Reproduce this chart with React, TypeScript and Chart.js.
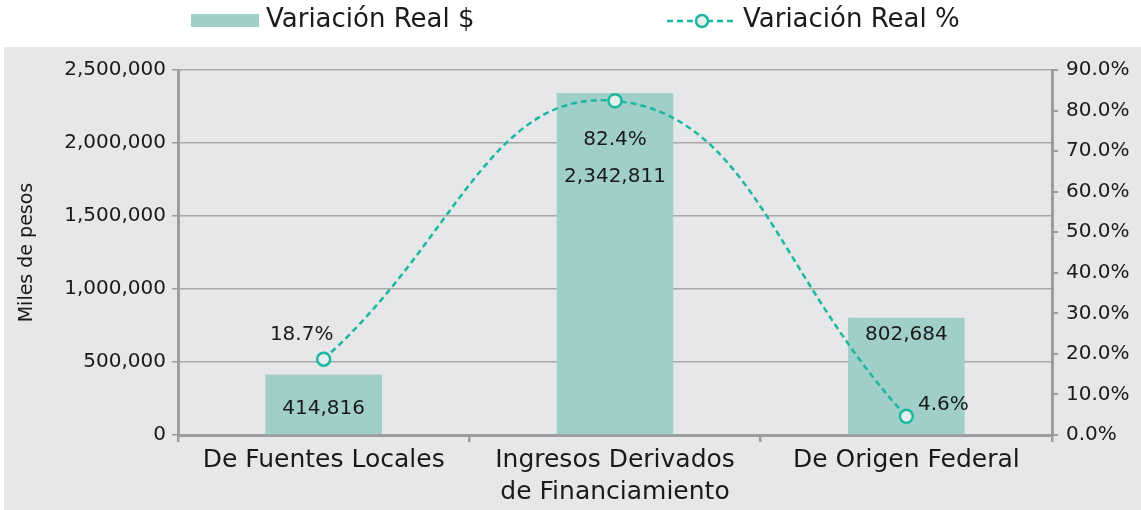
import React, { useEffect, useRef } from "react";
import { Chart, registerables } from "chart.js";

Chart.register(...registerables);

// ---- Data ----
const categories: string[][] = [
  ["De Fuentes Locales"],
  ["Ingresos Derivados", "de Financiamiento"],
  ["De Origen Federal"],
];
const realAmounts: number[] = [414816, 2342811, 802684];
const realPercents: number[] = [18.7, 82.4, 4.6];
const amountSeriesName = "Variación Real $";
const percentSeriesName = "Variación Real %";
const leftAxisTitle = "Miles de pesos";
const leftMax = 2500000;
const leftStep = 500000;
const rightMax = 90;
const rightStep = 10;

// ---- Styles ----
const FONT = "'DejaVu Sans', sans-serif";
const TEXT = "#1a1a1a";
const BAR = "#9fcfc8";
const TEAL = "#1bb7a0";
const MARKER_FILL = "#e8eeee";
const PANEL = "#e6e7e8";
const GRID = "#a8a8a8";
const AXIS = "#9d9d9d";

// label placement tweaks (pixel offsets relative to each mark)
const pctLabelOffsets: [number, number][] = [
  [-22, -24],
  [0, 39],
  [37, -12],
];
const amtLabelOffsets: number[] = [34, 84, 17];

const fmtAmount = (v: number) => v.toLocaleString("en-US");
const fmtPct = (v: number) => v.toFixed(1) + "%";

const backgroundPlugin = {
  id: "panelBg",
  beforeDraw(chart: any) {
    const { ctx, width, height } = chart;
    ctx.save();
    ctx.fillStyle = "#ffffff";
    ctx.fillRect(0, 0, width, height);
    ctx.fillStyle = PANEL;
    ctx.fillRect(4, 47, width - 4, height - 47);
    ctx.restore();
  },
};

const labelsPlugin = {
  id: "valueLabels",
  afterDatasetsDraw(chart: any) {
    const { ctx } = chart;
    ctx.save();
    ctx.font = `20px ${FONT}`;
    ctx.fillStyle = TEXT;
    ctx.textAlign = "center";
    ctx.textBaseline = "middle";
    const barMeta = chart.getDatasetMeta(1);
    barMeta.data.forEach((el: any, i: number) => {
      ctx.fillText(fmtAmount(realAmounts[i]), el.x, el.y + amtLabelOffsets[i]);
    });
    const lineMeta = chart.getDatasetMeta(0);
    lineMeta.data.forEach((el: any, i: number) => {
      const [dx, dy] = pctLabelOffsets[i];
      ctx.fillText(fmtPct(realPercents[i]), el.x + dx, el.y + dy);
    });
    ctx.restore();
  },
};

const legendPlugin = {
  id: "customLegend",
  afterDraw(chart: any) {
    const { ctx } = chart;
    ctx.save();
    ctx.font = `26px ${FONT}`;
    ctx.fillStyle = TEXT;
    ctx.textAlign = "left";
    ctx.textBaseline = "middle";
    // bar swatch
    ctx.fillStyle = BAR;
    ctx.fillRect(191, 14, 68, 13);
    ctx.fillStyle = TEXT;
    ctx.fillText(amountSeriesName, 266, 20);
    // line swatch
    ctx.strokeStyle = TEAL;
    ctx.lineWidth = 2.5;
    ctx.setLineDash([6, 4]);
    ctx.beginPath();
    ctx.moveTo(667, 21);
    ctx.lineTo(736, 21);
    ctx.stroke();
    ctx.setLineDash([]);
    ctx.beginPath();
    ctx.arc(702, 21, 6, 0, Math.PI * 2);
    ctx.fillStyle = MARKER_FILL;
    ctx.fill();
    ctx.lineWidth = 2.5;
    ctx.stroke();
    ctx.fillStyle = TEXT;
    ctx.fillText(percentSeriesName, 743, 20);
    ctx.restore();
  },
};

export default function App() {
  const canvasRef = useRef<HTMLCanvasElement | null>(null);

  useEffect(() => {
    if (!canvasRef.current) return;
    const chart = new Chart(canvasRef.current, {
      type: "bar",
      data: {
        labels: categories,
        datasets: [
          {
            type: "line",
            label: percentSeriesName,
            data: realPercents,
            yAxisID: "y1",
            borderColor: TEAL,
            borderWidth: 2.5,
            borderDash: [6, 4],
            tension: 0.45,
            pointRadius: 6.5,
            pointBackgroundColor: MARKER_FILL,
            pointBorderColor: TEAL,
            pointBorderWidth: 2.5,
            order: 0,
          } as any,
          {
            type: "bar",
            label: amountSeriesName,
            data: realAmounts,
            yAxisID: "y",
            backgroundColor: BAR,
            categoryPercentage: 1,
            barPercentage: 0.4,
            order: 1,
          },
        ],
      },
      options: {
        responsive: false,
        animation: false,
        layout: { padding: { left: 4, right: 0, top: 70, bottom: 0 } },
        plugins: {
          legend: { display: false },
          tooltip: { enabled: false },
        },
        scales: {
          x: {
            offset: true,
            grid: {
              offset: true,
              drawOnChartArea: false,
              drawTicks: true,
              tickLength: 7,
              color: AXIS,
              lineWidth: 2.5,
            },
            border: { color: AXIS, width: 3 },
            ticks: {
              font: { family: FONT, size: 25, lineHeight: 1.3 },
              color: TEXT,
              padding: 2,
              maxRotation: 0,
              autoSkip: false,
            },
            afterFit(scale: any) {
              scale.height = 510 - 435;
            },
          },
          y: {
            position: "left",
            min: 0,
            max: leftMax,
            ticks: {
              stepSize: leftStep,
              callback: (v: any) => fmtAmount(Number(v)),
              font: { family: FONT, size: 20 },
              color: TEXT,
              padding: 6,
            },
            grid: {
              color: GRID,
              lineWidth: 1.5,
              tickLength: 6,
              tickColor: AXIS,
            },
            border: { color: AXIS, width: 3 },
            title: {
              display: true,
              text: leftAxisTitle,
              font: { family: FONT, size: 19 },
              color: TEXT,
              padding: { top: 12, bottom: 0 },
            },
            afterFit(scale: any) {
              scale.width = 178 - 4;
            },
          },
          y1: {
            position: "right",
            min: 0,
            max: rightMax,
            ticks: {
              stepSize: rightStep,
              callback: (v: any) => fmtPct(Number(v)),
              font: { family: FONT, size: 20 },
              color: TEXT,
              padding: 8,
            },
            grid: {
              drawOnChartArea: false,
              tickLength: 6,
              color: AXIS,
              lineWidth: 2,
            },
            border: { color: AXIS, width: 3 },
            afterFit(scale: any) {
              scale.width = 1141 - 1052;
            },
          },
        },
      } as any,
      plugins: [backgroundPlugin, labelsPlugin, legendPlugin],
    });
    return () => chart.destroy();
  }, []);

  return (
    <div style={{ position: "absolute", left: 0, top: 0, width: 1141, height: 510 }}>
      <canvas ref={canvasRef} width={1141} height={510} />
    </div>
  );
}
